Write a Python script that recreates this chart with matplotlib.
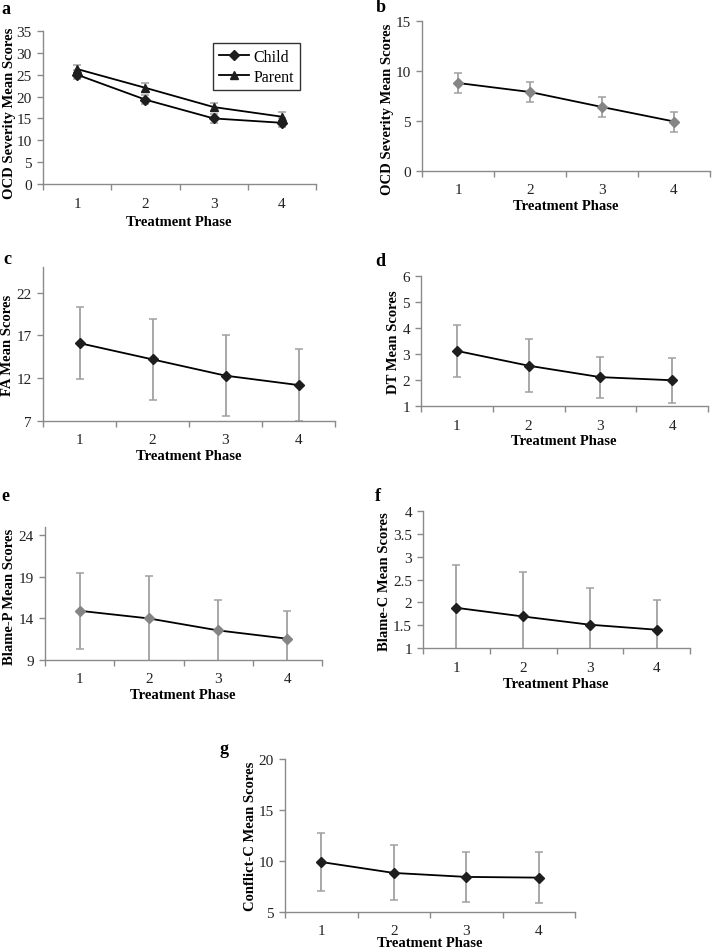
import matplotlib
matplotlib.use("Agg")
import matplotlib.pyplot as plt
import numpy as np

plt.rcParams['font.family'] = ['Liberation Serif', 'DejaVu Serif']

phases = [1, 2, 3, 4]

# a: OCD severity (child vs parent)
a_child = [25.0, 19.3, 15.0, 14.0]
a_child_err = [1.0, 1.0, 1.0, 1.0]
a_parent = [26.3, 22.0, 17.6, 15.4]
a_parent_err = [1.0, 1.0, 1.0, 1.0]
# b: OCD severity
b_vals = [8.8, 7.9, 6.4, 4.95]
b_err = [1.0, 1.0, 1.0, 1.0]
# c: FA
c_vals = [16.1, 14.2, 12.3, 11.2]
c_err = [4.2, 4.75, 4.7, 4.2]
# d: DT
d_vals = [3.12, 2.55, 2.11, 1.99]
d_err = [1.0, 1.03, 0.79, 0.87]
# e: Blame-P
e_vals = [14.92, 14.0, 12.56, 11.56]
e_err = [4.6, 5.16, 3.64, 3.28]
# f: Blame-C
f_vals = [1.88, 1.69, 1.51, 1.40]
f_err = [0.94, 0.98, 0.81, 0.66]
# g: Conflict-C
g_vals = [9.9, 8.83, 8.44, 8.37]
g_err = [2.88, 2.7, 2.42, 2.5]

W, H = 712, 953
fig = plt.figure(figsize=(W / 100, H / 100), dpi=100)

AXC = '#8a8a8a'
ERRC = '#a0a0a0'
GRAYM = '#858585'
DARKM = '#1e1e1e'
TICKFS = 11
LABFS = 10.5


def add_ax(l, t, r, b):
    return fig.add_axes([l / W, 1 - b / H, (r - l) / W, (b - t) / H])


def style(ax, ylim, yticks, yticklabels=None):
    ax.set_xlim(0.5, 4.5)
    ax.set_ylim(*ylim)
    ax.set_yticks(yticks)
    if yticklabels is not None:
        ax.set_yticklabels(yticklabels)
    ax.set_xticks(phases)
    ax.set_xticks([0.5, 1.5, 2.5, 3.5, 4.5], minor=True)
    ax.tick_params(axis='x', which='major', length=0, pad=9, labelsize=TICKFS, colors='#222222')
    ax.tick_params(axis='x', which='minor', length=4, width=1, color=AXC, direction='out')
    ax.tick_params(axis='y', which='major', length=4, width=1, color=AXC, direction='out', pad=4,
                   labelsize=TICKFS, labelcolor='#222222')
    for s in ['top', 'right']:
        ax.spines[s].set_visible(False)
    for s in ['left', 'bottom']:
        ax.spines[s].set_color(AXC)
        ax.spines[s].set_linewidth(1.0)
    ax.patch.set_alpha(0)


def series(ax, vals, err, mcolor, marker='D', ms=5.5, label=None):
    ax.errorbar(phases, vals, yerr=err, fmt='none', ecolor=ERRC, elinewidth=1.3, capsize=3,
                capthick=1.1, zorder=2, clip_on=True)
    ax.plot(phases, vals, color='black', lw=1.3, marker=marker, ms=ms, mfc=mcolor, mec=mcolor,
            zorder=3, label=label)


def ftext(x, y, s, **kw):
    fig.text(x / W, 1 - y / H, s, **kw)


def panel_labels(letter, lx, ly, ylab, yx, yy, xx, xy):
    ftext(lx, ly, letter, fontsize=13, fontweight='bold', ha='left', va='center')
    ftext(yx, yy, ylab, fontsize=LABFS, fontweight='bold', rotation=90, ha='center', va='center')
    ftext(xx, xy, 'Treatment Phase', fontsize=LABFS, fontweight='bold', ha='center', va='center')


# Panel a
axa = add_ax(43, 32, 316, 185)
style(axa, (0, 35), [0, 5, 10, 15, 20, 25, 30, 35])
series(axa, a_child, a_child_err, DARKM, marker='D', ms=5, label='Child')
series(axa, a_parent, a_parent_err, DARKM, marker='^', ms=6, label='Parent')
leg = axa.legend(loc='upper left', bbox_to_anchor=((213 - 43) / 273, 1 - (44 - 32) / 153),
                 borderaxespad=0, fontsize=11.5, frameon=True, fancybox=False, handlelength=1.9,
                 handletextpad=0.3, borderpad=0.35, labelspacing=0.25)
leg.get_frame().set_edgecolor('black')
leg.get_frame().set_linewidth(1.0)
panel_labels('a', 1, 9, 'OCD Severity Mean Scores', 10, 113, 179, 223)

# Panel b
axb = add_ax(422, 22, 710, 172)
style(axb, (0, 15), [0, 5, 10, 15])
series(axb, b_vals, b_err, GRAYM)
panel_labels('b', 376, 7, 'OCD Severity Mean Scores', 388, 109, 566, 207)

# Panel c
axc = add_ax(43, 268, 335, 422)
style(axc, (7, 25), [7, 12, 17, 22])
series(axc, c_vals, c_err, DARKM)
panel_labels('c', 3, 260, 'FA Mean Scores', 8, 345, 189, 457)

# Panel d
axd = add_ax(421, 277, 708, 407)
style(axd, (1, 6), [1, 2, 3, 4, 5, 6])
series(axd, d_vals, d_err, DARKM)
panel_labels('d', 375, 261, 'DT Mean Scores', 393, 342, 564, 442)

# Panel e
axe = add_ax(45, 528, 322, 661)
style(axe, (9, 25), [9, 14, 19, 24])
series(axe, e_vals, e_err, GRAYM)
panel_labels('e', 1, 497, 'Blame-P Mean Scores', 10, 597, 183, 696)

# Panel f
axf = add_ax(423, 512, 690, 649)
style(axf, (1, 4), [1, 1.5, 2, 2.5, 3, 3.5, 4], ['1', '1.5', '2', '2.5', '3', '3.5', '4'])
series(axf, f_vals, f_err, DARKM)
panel_labels('f', 375, 497, 'Blame-C Mean Scores', 384, 582, 556, 684)

# Panel g
axg = add_ax(285, 760, 575, 913)
style(axg, (5, 20), [5, 10, 15, 20])
series(axg, g_vals, g_err, DARKM)
panel_labels('g', 219, 750, 'Conflict-C Mean Scores', 250, 836, 430, 944)

fig.savefig('out.png', dpi=100, facecolor='white')
